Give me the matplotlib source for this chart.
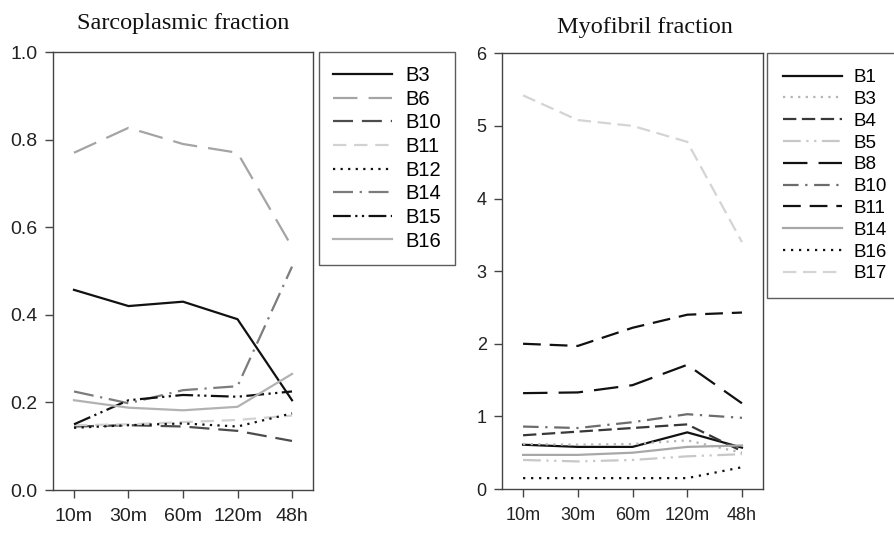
import matplotlib.pyplot as plt

# time points
times = ['10m', '30m', '60m', '120m', '48h']

# sarcoplasmic fraction
sarc_labels = ['B3', 'B6', 'B10', 'B11', 'B12', 'B14', 'B15', 'B16']
sarc_B3 = [0.457, 0.420, 0.430, 0.390, 0.205]
sarc_B6 = [0.770, 0.827, 0.790, 0.770, 0.555]
sarc_B10 = [0.145, 0.148, 0.145, 0.135, 0.112]
sarc_B11 = [0.148, 0.150, 0.155, 0.160, 0.170]
sarc_B12 = [0.142, 0.148, 0.152, 0.145, 0.175]
sarc_B14 = [0.225, 0.198, 0.228, 0.237, 0.510]
sarc_B15 = [0.150, 0.205, 0.217, 0.213, 0.225]
sarc_B16 = [0.205, 0.188, 0.182, 0.190, 0.265]

# myofibril fraction
myo_labels = ['B1', 'B3', 'B4', 'B5', 'B8', 'B10', 'B11', 'B14', 'B16', 'B17']
myo_B1 = [0.61, 0.58, 0.58, 0.78, 0.57]
myo_B3 = [0.62, 0.61, 0.62, 0.67, 0.50]
myo_B4 = [0.74, 0.79, 0.84, 0.89, 0.52]
myo_B5 = [0.40, 0.38, 0.40, 0.45, 0.48]
myo_B8 = [1.32, 1.33, 1.43, 1.71, 1.18]
myo_B10 = [0.86, 0.84, 0.92, 1.03, 0.98]
myo_B11 = [2.00, 1.97, 2.22, 2.40, 2.43]
myo_B14 = [0.47, 0.47, 0.50, 0.58, 0.60]
myo_B16 = [0.15, 0.15, 0.15, 0.15, 0.30]
myo_B17 = [5.42, 5.08, 5.00, 4.78, 3.40]

sarc_series = [sarc_B3, sarc_B6, sarc_B10, sarc_B11, sarc_B12, sarc_B14, sarc_B15, sarc_B16]
myo_series = [myo_B1, myo_B3, myo_B4, myo_B5, myo_B8, myo_B10, myo_B11, myo_B14, myo_B16, myo_B17]

# styles: (color, dashes)  dashes None -> solid
sarc_styles = [
    ('#111111', None),
    ('#a4a4a4', (11, 5)),
    ('#4c4c4c', (9, 4)),
    ('#d2d2d2', (6, 3.5)),
    ('#111111', (1, 2.4)),
    ('#7c7c7c', (9, 3, 1, 3)),
    ('#111111', (8, 2, 1, 2, 1, 2)),
    ('#b2b2b2', None),
]
myo_styles = [
    ('#111111', None),
    ('#b4b4b4', (1, 2.4)),
    ('#383838', (6, 2.5)),
    ('#c8c8c8', (8, 2.5, 1, 2.5, 1, 2.5)),
    ('#111111', (11, 5)),
    ('#6c6c6c', (7, 3, 1, 3)),
    ('#111111', (8, 4)),
    ('#a8a8a8', None),
    ('#111111', (1, 2.6)),
    ('#d4d4d4', (6, 3)),
]

plt.rcParams['font.family'] = ['Liberation Sans', 'DejaVu Sans']

fig = plt.figure(figsize=(8.94, 5.53), dpi=100)
ax1 = fig.add_axes([0.0593, 0.1139, 0.2908, 0.792])
ax2 = fig.add_axes([0.5615, 0.1157, 0.292, 0.788])

x = list(range(len(times)))


def draw(ax, series, labels, styles, fs):
    for vals, lab, (c, d) in zip(series, labels, styles):
        line, = ax.plot(x, vals, color=c, lw=1.6, label=lab)
        if d is not None:
            line.set_dashes(d)
    ax.set_xlim(-0.385, 4.385)
    ax.set_xticks(x)
    ax.set_xticklabels(times)
    for s in ax.spines.values():
        s.set_color('#444444')
        s.set_linewidth(1.0)
    ax.tick_params(axis='both', direction='out', length=6, width=1, color='#444444',
                   labelsize=fs, labelcolor='#222222', pad=5)
    ax.tick_params(axis='x', pad=7)


draw(ax1, sarc_series, sarc_labels, sarc_styles, 14)
ax1.set_ylim(0, 1.0)
ax1.set_yticks([0.0, 0.2, 0.4, 0.6, 0.8, 1.0])
ax1.set_yticklabels(['0.0', '0.2', '0.4', '0.6', '0.8', '1.0'])

draw(ax2, myo_series, myo_labels, myo_styles, 13)
ax2.set_ylim(0, 6)
ax2.set_yticks(range(7))

fig.text(183 / 894, 1 - 24 / 553, 'Sarcoplasmic fraction', ha='center', va='center',
         family='Liberation Serif', fontsize=17.5, color='#111111')
fig.text(645 / 894, 1 - 27 / 553, 'Myofibril fraction', ha='center', va='center',
         family='Liberation Serif', fontsize=17.5, color='#111111')

legs = [(ax1, (319 / 894, 1 - 52 / 553), 14.5, 0.23, 2.93, 0.65, 0.7),
        (ax2, (767 / 894, 1 - 53 / 553), 13.5, 0.25, 3.15, 0.6, 0.85)]
for ax, anchor, fs, sp, hl, tp, bp in legs:
    leg = ax.legend(loc='upper left', bbox_to_anchor=anchor, bbox_transform=fig.transFigure,
                    fontsize=fs, handlelength=hl, handletextpad=tp, labelspacing=sp,
                    borderpad=bp, borderaxespad=0, fancybox=False, frameon=True)
    leg.get_frame().set_edgecolor('#333333')
    leg.get_frame().set_linewidth(1.0)

fig.savefig('out.png', dpi=100)
